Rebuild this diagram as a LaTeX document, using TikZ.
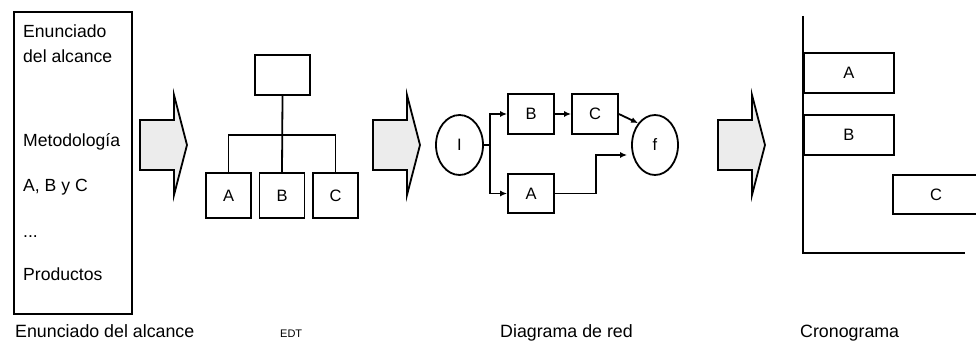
\documentclass[tikz,border=0pt]{standalone}
\usepackage{fontspec}
\setmainfont{Liberation Sans}
\usetikzlibrary{shapes.geometric,arrows.meta}

\tikzset{
  txt/.style={anchor=base west, inner sep=0pt, font=\fontsize{17.6}{20}\selectfont},
  rotulo/.style={anchor=base west, inner sep=0pt, font=\fontsize{17.8}{20}\selectfont},
  box/.style={draw, line width=1.8pt, inner sep=0pt, font=\fontsize{16.5}{18}\selectfont},
  event/.style={draw, ellipse, line width=1.8pt, inner sep=0pt, minimum width=47pt, minimum height=60pt, font=\fontsize{16.5}{18}\selectfont},
  bar/.style={box, anchor=west, minimum width=90pt, minimum height=40pt},
  link/.style={line width=1.8pt},
  flow/.style={link, -{Latex[length=7pt,width=6pt]}}
}

\begin{document}
\begin{tikzpicture}[x=1pt, y=-1pt]
            \useasboundingbox[fill=white] (0,0) rectangle (976,344);

            % enunciado del alcance
            \draw[line width=1.8pt] (14,12) rectangle (132,314);
            \node[txt] (t1) at (23,38)  {Enunciado};
            \node[txt] (t2) at (23,63)  {del alcance};
            \node[txt] (t3) at (23,147) {Metodología};
            \node[txt] (t4) at (23,192) {A, B y C};
            \node[txt] (t5) at (23,238) {...};
            \node[txt] (t6) at (23,280) {Productos};

            % flechas de bloque
            \foreach \x in {140,373,718}
              \filldraw[fill=gray!15, draw=black, line width=1.8pt, line join=miter]
                (\x,120) -- (\x+34,120) -- (\x+34,95) -- (\x+47,145) -- (\x+34,195)
                -- (\x+34,170) -- (\x,170) -- cycle;

            % EDT
            \node[box, minimum width=55pt, minimum height=40pt] (top) at (282.5,75) {};
            \node[box, minimum width=45pt, minimum height=45pt] (edtA) at (228.5,195.5) {A};
            \node[box, minimum width=45pt, minimum height=45pt] (edtB) at (282,195.5) {B};
            \node[box, minimum width=45pt, minimum height=45pt] (edtC) at (335.5,195.5) {C};
            \coordinate (bar) at (282,135);
            \draw[link] (top.south) -- (edtB.north);
            \draw[link] (edtA.north) |- (bar) -| (edtC.north);

            % diagrama de red
            \node[event] (I) at (459.5,145) {I};
            \node[event, minimum width=46pt] (f) at (655,145) {f};
            \node[box, minimum width=46pt, minimum height=40pt] (B) at (531,114) {B};
            \node[box, minimum width=46pt, minimum height=40pt] (C) at (595,114) {C};
            \node[box, minimum width=46pt, minimum height=39pt] (A) at (531,193.5) {A};
            \coordinate (split) at (490,145);
            \coordinate (bend) at (596,155);
            \draw[link] (I.east) -- (split);
            \draw[flow] (split) |- (B.west);
            \draw[flow] (split) |- (A.west);
            \draw[flow] (B) -- (C);
            \draw[flow] (C.east) -- (f.north west);
            \draw[flow] (A.east) -| (bend) -- ([xshift=-4pt]f.west |- bend);

            % cronograma
            \coordinate (ytop) at (803,16);
            \coordinate (orig) at (803,253);
            \coordinate (xend) at (965,253);
            \draw[link] (ytop) -- (orig) -- (xend);
            \node[bar] (barA) at (803,73) {A};
            \node[bar] (barB) at (803,135) {B};
            \draw[link] (980,175) -- (893,175) -- (893,214) -- (980,214);
            \node[inner sep=0pt, font=\fontsize{16.5}{18}\selectfont] (barC) at (936,195) {C};

            % rotulos
            \node[rotulo] (l1) at (15,337)  {Enunciado del alcance};
            \node[rotulo, font=\fontsize{11}{13}\selectfont] (l2) at (280,337) {EDT};
            \node[rotulo] (l3) at (500,337) {Diagrama de red};
            \node[rotulo] (l4) at (800,337) {Cronograma};
        \end{tikzpicture}
\end{document}
